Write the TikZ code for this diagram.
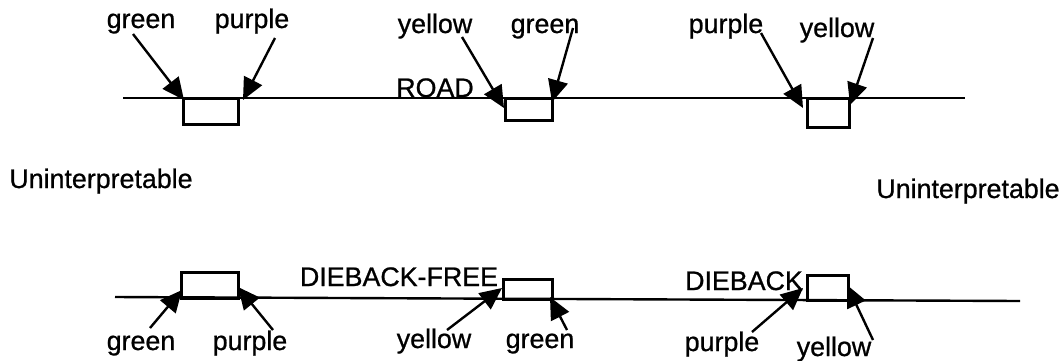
\documentclass[tikz,border=0pt]{standalone}
\usepackage{fontspec}
\setmainfont{Liberation Sans}
\newfontfamily\scanfont[FakeBold=0.8]{Liberation Sans}
\usetikzlibrary{arrows.meta}
\begin{document}
\begin{tikzpicture}[x=0.5pt,y=-0.5pt,
  lbl/.style={inner sep=0pt,anchor=base,font=\scanfont\fontsize{13.4}{15}\selectfont},
  road/.style={line width=1.2pt},
  seg/.style={line width=1.5pt},
  ptr/.style={line width=1.2pt,-{Triangle[length=11pt,width=10pt]}}]
\useasboundingbox (0,0) rectangle (1064,360);
% main lines
\coordinate (tl) at (123,98); \coordinate (tr) at (965,98);
\coordinate (bl) at (115,297); \coordinate (br) at (1020,301);
\draw[road] (tl) -- (tr);
\draw[road] (bl) -- (br);
% boxes top
\draw[seg] (183,98) rectangle (238,124);
\draw[seg] (505,98) rectangle (552,120);
\draw[seg] (807,98) rectangle (849,127);
% boxes bottom
\draw[seg] (181,298) rectangle (238,272);
\draw[seg] (503,299) rectangle (552,279);
\draw[seg] (807,300) rectangle (848,275);
% labels top
\node[lbl] (g1) at (141,28) {green};
\node[lbl] (p1) at (252,28) {purple};
\node[lbl] (y2) at (435,33) {yellow};
\node[lbl] (g2) at (545,33) {green};
\node[lbl] (p3) at (726,33) {purple};
\node[lbl] (y3) at (837,37) {yellow};
\node[lbl] (road) at (435,97) {ROAD};
% side labels
\node[lbl] (u1) at (101,188) {Uninterpretable};
\node[lbl] (u2) at (968,198) {Uninterpretable};
% labels bottom
\node[lbl] (dbf) at (399,286) {DIEBACK-FREE};
\node[lbl] (db) at (744,290) {DIEBACK};
\node[lbl] (bg1) at (141,350) {green};
\node[lbl] (bp1) at (250,350) {purple};
\node[lbl] (by2) at (434,348) {yellow};
\node[lbl] (bg2) at (540,348) {green};
\node[lbl] (bp3) at (722,351) {purple};
\node[lbl] (by3) at (834,356) {yellow};
% arrow ends top
\coordinate (a1s) at (133,34); \coordinate (a1e) at (184,100);
\coordinate (a2s) at (275,38); \coordinate (a2e) at (243,100);
\coordinate (a3s) at (462,37); \coordinate (a3e) at (504,108);
\coordinate (a4s) at (573,28); \coordinate (a4e) at (552,102);
\coordinate (a5s) at (761,33); \coordinate (a5e) at (803,108);
\coordinate (a6s) at (873,38); \coordinate (a6e) at (850,105);
\draw[ptr] (a1s) -- (a1e);
\draw[ptr] (a2s) -- (a2e);
\draw[ptr] (a3s) -- (a3e);
\draw[ptr] (a4s) -- (a4e);
\draw[ptr] (a5s) -- (a5e);
\draw[ptr] (a6s) -- (a6e);
% arrow ends bottom
\coordinate (b1s) at (150,328); \coordinate (b1e) at (182,290);
\coordinate (b2s) at (273,330); \coordinate (b2e) at (238,287);
\coordinate (b3s) at (447,330); \coordinate (b3e) at (502,288);
\coordinate (b4s) at (567,330); \coordinate (b4e) at (550,297);
\coordinate (b5s) at (752,332); \coordinate (b5e) at (803,288);
\coordinate (b6s) at (873,340); \coordinate (b6e) at (847,285);
\draw[ptr] (b1s) -- (b1e);
\draw[ptr] (b2s) -- (b2e);
\draw[ptr] (b3s) -- (b3e);
\draw[ptr] (b4s) -- (b4e);
\draw[ptr] (b5s) -- (b5e);
\draw[ptr] (b6s) -- (b6e);
\end{tikzpicture}
\end{document}
